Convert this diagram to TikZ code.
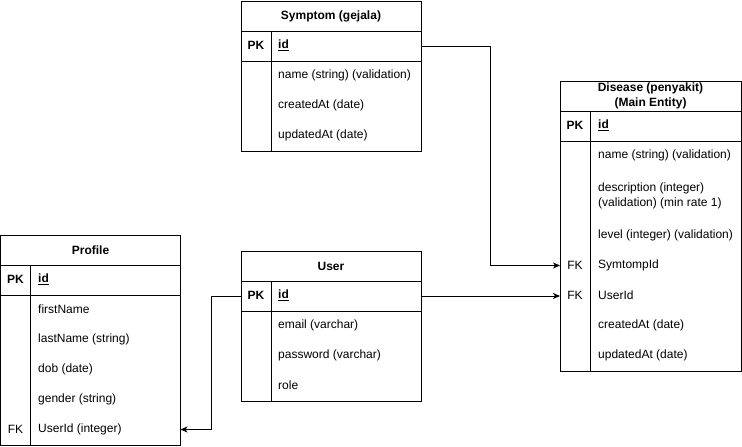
\documentclass[tikz,border=0pt]{standalone}
\usepackage{fontspec}
\setmainfont{Liberation Sans}
\usetikzlibrary{arrows.meta}
\begin{document}
\begin{tikzpicture}[x=1pt,y=-1pt,
  frame/.style={draw, line width=1pt, inner sep=0pt, outer sep=0pt, anchor=north west},
  hdr/.style={font=\bfseries\fontsize{12}{15}\selectfont, align=center},
  txt/.style={anchor=west, inner sep=0pt, font=\fontsize{12}{15}\selectfont, align=left},
  key/.style={anchor=center, inner sep=0pt, font=\fontsize{12}{14}\selectfont},
  pkey/.style={key, font=\bfseries\fontsize{12}{14}\selectfont},
  pid/.style={txt, font=\bfseries\fontsize{12}{14}\selectfont},
  sep/.style={line width=1pt},
  link/.style={line width=1pt, -{Stealth[length=7pt,width=6pt,inset=2pt]}}
]
\useasboundingbox (0,0) rectangle (742,447);

% ---------- Symptom ----------
\node[frame, hdr, minimum width=180pt, minimum height=30pt] (sH) at (241,1) {Symptom (gejala)};
\node[frame, minimum width=180pt, minimum height=30pt] (sPK) at (241,31) {};
\node[frame, minimum width=180pt, minimum height=90pt] (sB) at (241,61) {};
\draw[sep] (271,31) -- (271,151);
\node[pkey] (sPKk) at (256,45.5) {PK};
\node[pid] (sId) at (278,45.5) {\underline{id}};
\node[txt] (sName) at (278,75) {name (string) (validation)};
\node[txt] (sCr) at (278,105) {createdAt (date)};
\node[txt] (sUp) at (278,135) {updatedAt (date)};

% ---------- Disease ----------
\node[frame, hdr, minimum width=181pt, minimum height=30pt] (dH) at (560,81) {Disease (penyakit)\\(Main Entity)};
\node[frame, minimum width=181pt, minimum height=30pt] (dPK) at (560,111) {};
\node[frame, minimum width=181pt, minimum height=230pt] (dB) at (560,141) {};
\draw[sep] (590,111) -- (590,371);
\node[pkey] (dPKk) at (575,125.5) {PK};
\node[pid] (dId) at (598,125.5) {\underline{id}};
\node[txt] (dName) at (598,155) {name (string) (validation)};
\node[txt] (dDesc) at (598,195.5) {description (integer)\\(validation) (min rate 1)};
\node[txt] (dLevel) at (598,235) {level (integer) (validation)};
\node[key] (dSymK) at (575,265.5) {FK};
\node[txt] (dSym) at (598,265.5) {SymtompId};
\node[key] (dUserK) at (575,295.5) {FK};
\node[txt] (dUser) at (598,295.5) {UserId};
\node[txt] (dCr) at (598,325) {createdAt (date)};
\node[txt] (dUp) at (598,355) {updatedAt (date)};

% ---------- User ----------
\node[frame, hdr, minimum width=180pt, minimum height=30pt] (uH) at (241,251) {User};
\node[frame, minimum width=180pt, minimum height=30pt] (uPK) at (241,281) {};
\node[frame, minimum width=180pt, minimum height=90pt] (uB) at (241,311) {};
\draw[sep] (271,281) -- (271,401);
\node[pkey] (uPKk) at (256,295.5) {PK};
\node[pid] (uId) at (278,295.5) {\underline{id}};
\node[txt] (uEmail) at (278,325) {email (varchar)};
\node[txt] (uPass) at (278,355) {password (varchar)};
\node[txt] (uRole) at (278,385) {role};

% ---------- Profile ----------
\node[frame, hdr, minimum width=180pt, minimum height=30pt] (pH) at (0.5,235) {Profile};
\node[frame, minimum width=180pt, minimum height=30pt] (pPK) at (0.5,265) {};
\node[frame, minimum width=180pt, minimum height=150pt] (pB) at (0.5,295) {};
\draw[sep] (30.5,265) -- (30.5,445);
\node[pkey] (pPKk) at (15.5,279.5) {PK};
\node[pid] (pId) at (38,279.5) {\underline{id}};
\node[txt] (pFirst) at (38,309) {firstName};
\node[txt] (pLast) at (38,339) {lastName (string)};
\node[txt] (pDob) at (38,369) {dob (date)};
\node[txt] (pGender) at (38,399) {gender (string)};
\node[key] (pUserK) at (15.5,429.5) {FK};
\node[txt] (pUser) at (38,429.5) {UserId (integer)};

% ---------- Connectors ----------
\draw[link] (sPK.east) -- ++(69,0) |- (dSymK -| dB.west);
\draw[link] (uPK.east) -- (uPK.east -| dB.west);
\draw[link] (uPK.west) -- ++(-30,0) |- (pUserK -| pB.east);
\end{tikzpicture}
\end{document}
